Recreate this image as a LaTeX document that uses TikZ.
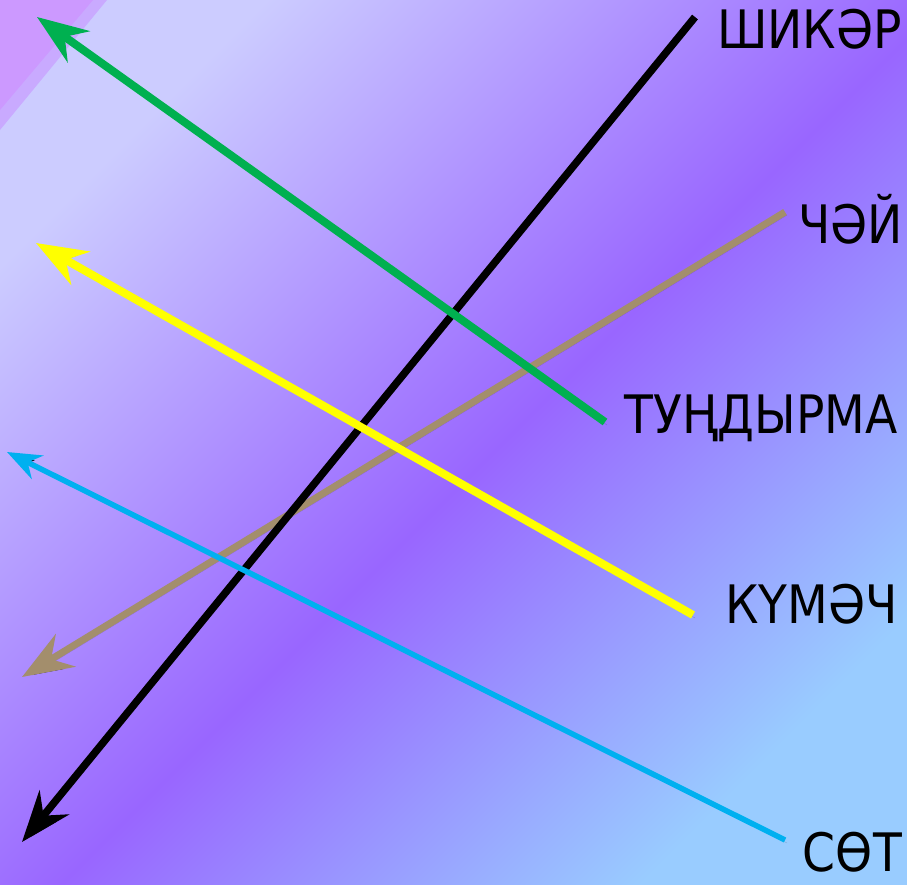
\documentclass[tikz,border=0pt]{standalone}
\usepackage{fontspec}
\setmainfont{DejaVu Sans}
\usetikzlibrary{arrows.meta}
\definecolor{bgA}{HTML}{CCCCFF}
\definecolor{bgB}{HTML}{9966FF}
\definecolor{bgC}{HTML}{99CCFF}
\definecolor{cornerA}{HTML}{CC99FF}
\definecolor{cornerB}{HTML}{C9AAFF}
\definecolor{lgreen}{HTML}{00B050}
\definecolor{lyellow}{HTML}{FFFF00}
\definecolor{ltan}{HTML}{A38E6C}
\definecolor{lcyan}{HTML}{00B0F0}
\pgfdeclarehorizontalshading{bgshade}{100bp}{color(0bp)=(bgA); color(25bp)=(bgA); color(52bp)=(bgB); color(75bp)=(bgC); color(100bp)=(bgC)}
\tikzset{
  lbl/.style={anchor=base east, font=\fontsize{53}{53}\selectfont, text=black, inner sep=0pt, xscale=0.89},
  bigarrow/.style={-{Stealth[length=51pt,width=38pt,inset=17pt]}},
  smallarrow/.style={-{Stealth[length=34pt,width=26pt,inset=11pt]}},
  shadowed/.style={preaction={draw=black, draw opacity=0.18, transform canvas={shift={(2pt,-3pt)}}}}
}
\begin{document}
\begin{tikzpicture}[x=1pt,y=-1pt]
\useasboundingbox (0,0) rectangle (907,884);
\shade[shading=bgshade, shading angle=-45] (0,0) rectangle (907,884);
\fill[cornerB] (0,0) -- (107,0) -- (0,130) -- cycle;
\fill[cornerA] (0,0) -- (93,0) -- (0,110) -- cycle;
% coordinates
\coordinate (bS) at (695,17);
\coordinate (bE) at (22,842);
\coordinate (gS) at (605,422);
\coordinate (gE) at (37,17);
\coordinate (tS) at (785,212);
\coordinate (tE) at (22,677);
\coordinate (yS) at (693,615);
\coordinate (yE) at (36,243);
\coordinate (cS) at (785,840);
\coordinate (cE) at (7,452);
% lines
\draw[shadowed, line width=7pt, ltan, bigarrow] (tS) -- (tE);
\draw[shadowed, line width=7.5pt, black, bigarrow] (bS) -- (bE);
\draw[shadowed, line width=5.5pt, lcyan, smallarrow] (cS) -- (cE);
\draw[shadowed, line width=8pt, lyellow, bigarrow] (yS) -- (yE);
\draw[shadowed, line width=8pt, lgreen, bigarrow] (gS) -- (gE);
% labels
\node[lbl] (l1) at (902,48) {ШИКӘР};
\node[lbl] (l2) at (903,243) {ЧӘЙ};
\node[lbl] (l3) at (898,433) {ТУҢДЫРМА};
\node[lbl] (l4) at (898,623) {КҮМӘЧ};
\node[lbl] (l5) at (902,871) {СӨТ};
\end{tikzpicture}
\end{document}
